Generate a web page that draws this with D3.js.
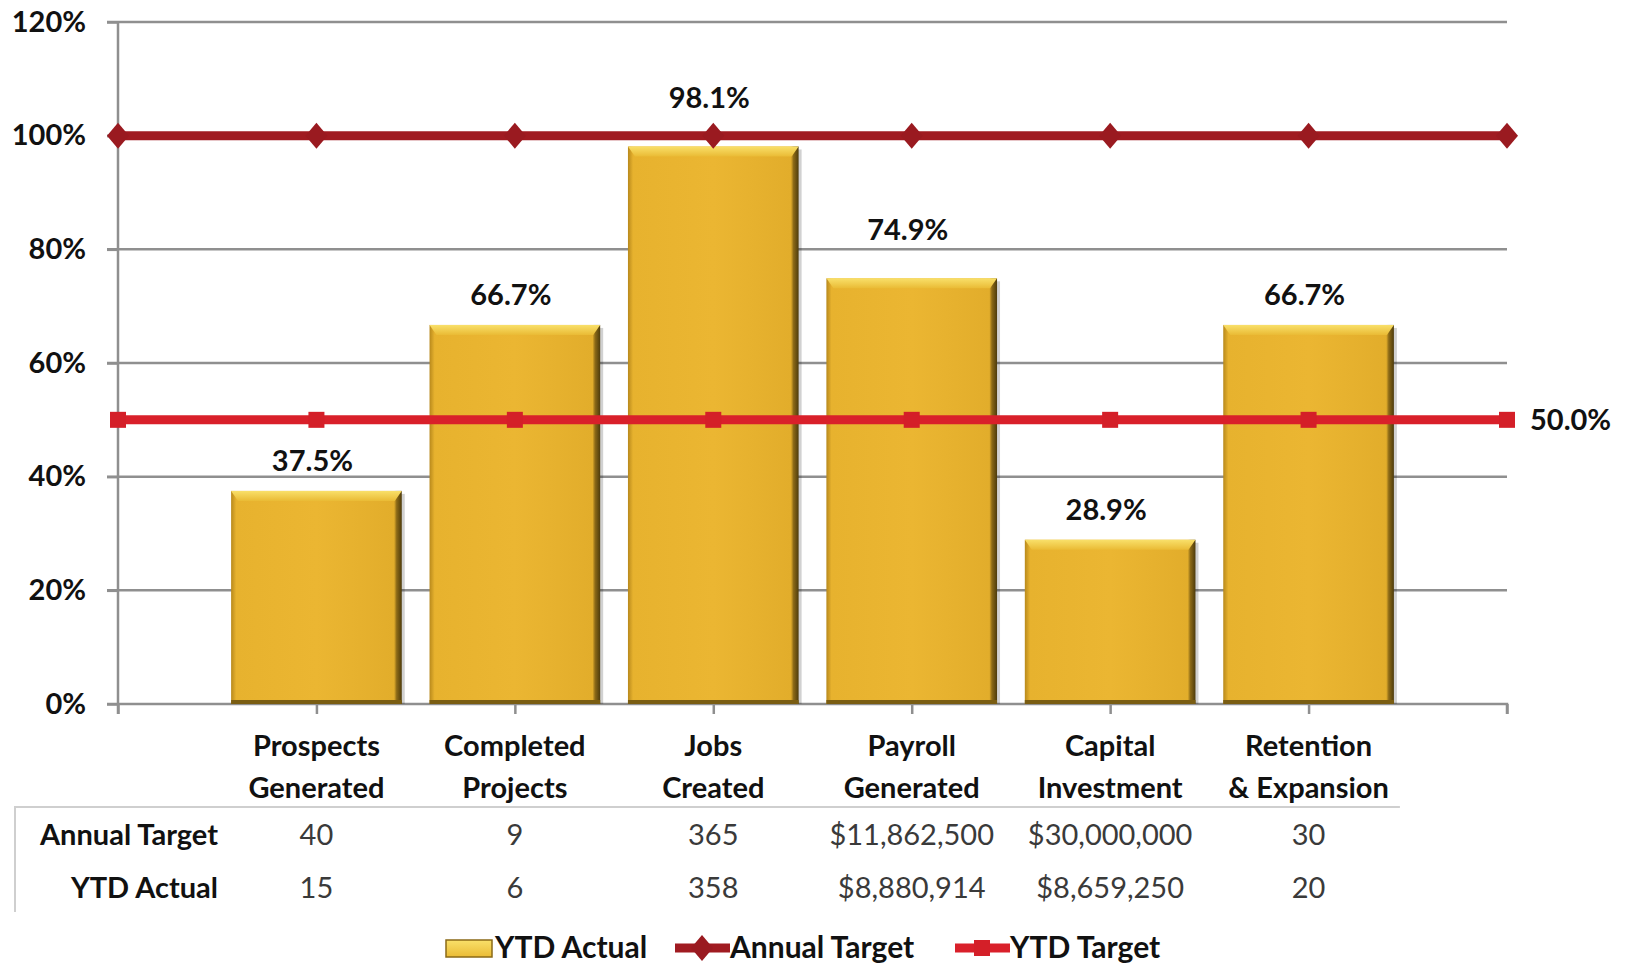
<!DOCTYPE html>
<html>
<head>
<meta charset="utf-8">
<script src="https://cdn.jsdelivr.net/npm/d3@7"></script>
<style>
  body { margin: 0; background: #fff; }
  #chart text { font-family: Lato, "Open Sans", sans-serif; }
</style>
</head>
<body>
<div id="chart"></div>
<script>
const categories = [
  ["Prospects", "Generated"],
  ["Completed", "Projects"],
  ["Jobs", "Created"],
  ["Payroll", "Generated"],
  ["Capital", "Investment"],
  ["Retention", "& Expansion"]
];
const ytdActualPct = [37.5, 66.7, 98.1, 74.9, 28.9, 66.7];
// target lines run across all 8 slots (empty slot at each end)
const annualTargetPct = [100, 100, 100, 100, 100, 100, 100, 100];
const ytdTargetPct = [50, 50, 50, 50, 50, 50, 50, 50];
const annualTargetRow = ["40", "9", "365", "$11,862,500", "$30,000,000", "30"];
const ytdActualRow = ["15", "6", "358", "$8,880,914", "$8,659,250", "20"];
const yTicks = [0, 20, 40, 60, 80, 100, 120];

// extra lift for labels that excel nudged up
const labelLift = [0, 0, 18, 18, 0, 0];

const W = 1625, H = 965;
const plotL = 118, plotR = 1507, plotT = 22, plotB = 704;
const FS = 29;

const svg = d3.select("#chart").append("svg").attr("width", W).attr("height", H);
const defs = svg.append("defs");

const barGrad = defs.append("linearGradient").attr("id", "barGrad").attr("x1", 0).attr("x2", 1).attr("y1", 0).attr("y2", 0);
[[0, "#b8891c"], [0.03, "#e7b22e"], [0.5, "#ebb632"], [0.955, "#e2ad2b"], [0.97, "#8c6a17"], [1, "#4d3b0c"]]
  .forEach(([o, c]) => barGrad.append("stop").attr("offset", o).attr("stop-color", c));
const bevelGrad = defs.append("linearGradient").attr("id", "bevelGrad").attr("x1", 0).attr("x2", 0).attr("y1", 0).attr("y2", 1);
[[0, "#f9e06a"], [1, "#eabb35"]].forEach(([o, c]) => bevelGrad.append("stop").attr("offset", o).attr("stop-color", c));

const x = d3.scaleLinear().domain([0, 7]).range([plotL, plotR]);
const y = d3.scaleLinear().domain([0, 120]).range([plotB, plotT]);
const slot = x(1) - x(0);
const barW = slot * 0.86;

// gridlines
svg.append("g")
  .selectAll("line").data(yTicks.filter(d => d > 0)).enter().append("line")
  .attr("x1", plotL - 11).attr("x2", plotR)
  .attr("y1", d => y(d)).attr("y2", d => y(d))
  .attr("stroke", "#8f8f8f").attr("stroke-width", 2.5);

// y axis
const yAxis = svg.append("g").attr("transform", `translate(${plotL},0)`)
  .call(d3.axisLeft(y).tickValues(yTicks).tickFormat(d => d + "%").tickSize(11).tickPadding(21));
yAxis.select(".domain").attr("stroke", "#8f8f8f").attr("stroke-width", 2.5).attr("d", `M0,${plotT}V${plotB + 10}`);
yAxis.selectAll(".tick line").attr("stroke", "#8f8f8f").attr("stroke-width", 2.5);
yAxis.selectAll("text").attr("font-size", FS).attr("font-weight", "bold").attr("fill", "#111");

// x axis with tick marks on every slot
const xAxis = svg.append("g").attr("transform", `translate(0,${plotB})`)
  .call(d3.axisBottom(x).ticks(7).tickSize(10).tickFormat(""));
xAxis.select(".domain").attr("stroke", "#8f8f8f").attr("stroke-width", 2.5).attr("d", `M${plotL - 11},0H${plotR}V10`);
xAxis.selectAll(".tick line").attr("stroke", "#8f8f8f").attr("stroke-width", 2.5);

// bars
const bars = svg.append("g").selectAll("g").data(ytdActualPct).enter().append("g")
  .attr("transform", (d, i) => `translate(${x(i + 1) - barW / 2},0)`);
bars.append("rect").attr("x", 3).attr("y", d => y(d) + 3).attr("width", barW).attr("height", d => plotB - y(d) - 3)
  .attr("fill", "rgba(0,0,0,0.18)");
bars.append("rect").attr("x", 0).attr("y", d => y(d)).attr("width", barW).attr("height", d => plotB - y(d))
  .attr("fill", "url(#barGrad)");
bars.append("path")
  .attr("d", d => `M0,${y(d)}H${barW}L${barW - 7},${y(d) + 10}H7Z`)
  .attr("fill", "url(#bevelGrad)");
bars.append("rect").attr("x", 0).attr("y", plotB - 4).attr("width", barW).attr("height", 4).attr("fill", "#7a5d12");

// bar value labels
svg.append("g").selectAll("text").data(ytdActualPct).enter().append("text")
  .attr("x", (d, i) => x(i + 1) - 4)
  .attr("y", (d, i) => y(d) - 20 - labelLift[i])
  .attr("text-anchor", "middle").attr("font-size", FS).attr("font-weight", "bold").attr("fill", "#111")
  .text(d => d.toFixed(1) + "%");

// target lines
const line = d3.line().x((d, i) => x(i)).y(d => y(d));
svg.append("path").datum(annualTargetPct).attr("d", line).attr("fill", "none")
  .attr("stroke", "#a01b21").attr("stroke-width", 9);
svg.append("g").selectAll("path").data(annualTargetPct).enter().append("path")
  .attr("d", (d, i) => `M${x(i)},${y(d) - 13}L${x(i) + 11},${y(d)}L${x(i)},${y(d) + 13}L${x(i) - 11},${y(d)}Z`)
  .attr("fill", "#9a1a20");

svg.append("path").datum(ytdTargetPct).attr("d", line).attr("fill", "none")
  .attr("stroke", "#d9202a").attr("stroke-width", 9);
svg.append("g").selectAll("rect").data(ytdTargetPct).enter().append("rect")
  .attr("x", (d, i) => x(i) - 8).attr("y", d => y(d) - 8).attr("width", 16).attr("height", 16)
  .attr("fill", "#d41f28");
svg.append("text").attr("x", plotR + 23).attr("y", y(ytdTargetPct[7]) + 10)
  .attr("font-size", FS).attr("font-weight", "bold").attr("fill", "#111")
  .text(ytdTargetPct[7].toFixed(1) + "%");

// category labels
const cat = svg.append("g").selectAll("text").data(categories).enter().append("text")
  .attr("x", (d, i) => x(i + 1)).attr("text-anchor", "middle")
  .attr("font-size", FS).attr("font-weight", "bold").attr("fill", "#111");
cat.append("tspan").attr("x", (d, i) => x(i + 1)).attr("y", 756).text(d => d[0]);
cat.append("tspan").attr("x", (d, i) => x(i + 1)).attr("y", 798).text(d => d[1]);

// data table
svg.append("path").attr("d", `M15,912V807H${x(6) + barW / 2 + 6}`).attr("fill", "none")
  .attr("stroke", "#cfcfcf").attr("stroke-width", 2);
const rows = [["Annual Target", annualTargetRow, 845], ["YTD Actual", ytdActualRow, 898]];
rows.forEach(([name, vals, yy]) => {
  svg.append("text").attr("x", 218).attr("y", yy).attr("text-anchor", "end")
    .attr("font-size", FS).attr("font-weight", "bold").attr("fill", "#111").text(name);
  svg.append("g").selectAll("text").data(vals).enter().append("text")
    .attr("x", (d, i) => x(i + 1)).attr("y", yy).attr("text-anchor", "middle")
    .attr("font-size", FS).attr("fill", "#3a3a3a").text(d => d);
});

// legend
const lg = svg.append("g").attr("transform", "translate(0,948)");
lg.append("rect").attr("x", 446).attr("y", -8).attr("width", 46).attr("height", 17).attr("fill", "url(#bevelGrad)")
  .attr("stroke", "#8a6a17").attr("stroke-width", 1.5);
lg.append("text").attr("x", 495).attr("y", 10).attr("font-size", 30).attr("font-weight", "bold").attr("fill", "#111").text("YTD Actual");
lg.append("line").attr("x1", 675).attr("x2", 730).attr("y1", 0).attr("y2", 0).attr("stroke", "#a01b21").attr("stroke-width", 9);
lg.append("path").attr("d", "M702,-13L713,0L702,13L691,0Z").attr("fill", "#9a1a20");
lg.append("text").attr("x", 730).attr("y", 10).attr("font-size", 30).attr("font-weight", "bold").attr("fill", "#111").text("Annual Target");
lg.append("line").attr("x1", 955).attr("x2", 1010).attr("y1", 0).attr("y2", 0).attr("stroke", "#d9202a").attr("stroke-width", 9);
lg.append("rect").attr("x", 974).attr("y", -8).attr("width", 16).attr("height", 16).attr("fill", "#d41f28");
lg.append("text").attr("x", 1010).attr("y", 10).attr("font-size", 30).attr("font-weight", "bold").attr("fill", "#111").text("YTD Target");
</script>
</body>
</html>
